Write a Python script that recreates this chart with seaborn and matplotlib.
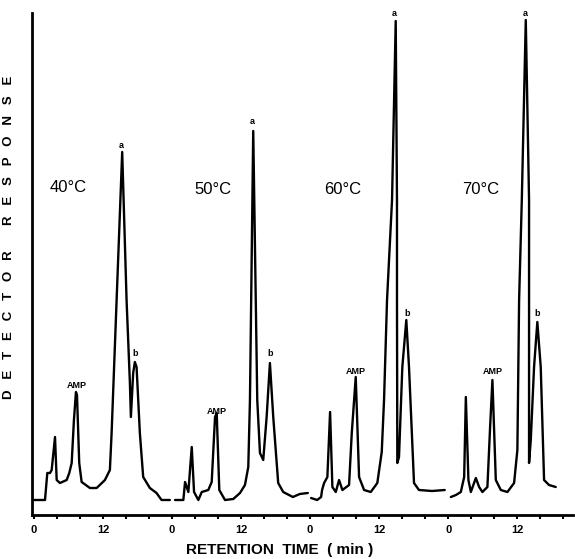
import pandas as pd
import numpy as np
import matplotlib.pyplot as plt
import seaborn as sns

# --- data (local time in min, detector response in arbitrary units) ---
temps = ['40°C', '50°C', '60°C', '70°C']
panel_span = 24  # each run drawn over a 24 min window

t40 = [0.0, 1.91, 2.31, 2.78, 3.07, 3.65, 3.94, 4.51, 5.68, 6.13, 6.55, 6.94, 7.29, 7.47, 7.86,
       8.28, 9.72, 10.89, 12.33, 13.19, 13.49, 14.36, 15.33, 16.09, 16.67, 16.84, 17.24, 17.53,
       17.83, 18.40, 18.98, 20.14, 21.30, 22.17, 23.61]
r40 = [15, 15, 42, 42, 45, 78, 35, 32, 35, 42, 52, 95, 123, 120, 52,
       33, 27, 27, 35, 45, 82, 215, 363, 215, 132, 98, 142, 153,
       148, 82, 38, 27, 22, 15, 15]

t50 = [0.52, 1.96, 2.26, 2.83, 3.42, 3.82, 4.57, 5.16, 6.30, 6.89, 7.47, 7.76, 8.21, 9.20,
       10.64, 11.81, 12.67, 13.25, 13.54, 14.11, 14.81, 15.28, 15.85, 16.44, 17.01, 17.59,
       18.45, 19.32, 21.0, 22.2, 23.6]
r50 = [15, 15, 33, 23, 68, 23, 15, 23, 25, 33, 98, 102, 25, 15,
       16, 22, 30, 48, 115, 384, 115, 62, 55, 98, 152, 98,
       32, 23, 18, 21, 22]

t60 = [0.17, 1.22, 1.91, 2.08, 2.43, 3.0, 3.47, 3.87, 4.46, 5.03, 5.61, 6.77, 7.24, 7.93, 8.51,
       9.38, 10.54, 11.68, 12.45, 12.85, 13.37, 14.24, 14.88, 15.1, 15.1, 15.16, 15.45, 16.03,
       16.72, 17.19, 18.06, 18.92, 21.2, 23.4]
r60 = [17, 15, 18, 25, 32, 38, 103, 28, 23, 35, 25, 30, 82, 138, 38,
       25, 23, 32, 63, 115, 215, 315, 494, 315, 215, 52, 58, 148,
       195, 148, 32, 25, 24, 25]

t70 = [0.47, 1.34, 2.2, 2.78, 3.07, 3.52, 3.94, 4.81, 5.38, 5.95, 6.82, 7.29, 7.69, 8.28, 9.15,
       10.3, 11.46, 12.03, 12.33, 12.8, 13.49, 14.06, 14.06, 14.36, 14.93, 15.5, 16.09, 16.67,
       17.53, 18.7]
r70 = [18, 20, 23, 38, 118, 35, 23, 37, 28, 23, 28, 88, 135, 35, 25,
       23, 32, 65, 215, 315, 495, 315, 52, 75, 148, 193, 148, 35,
       30, 28]

# peak annotations: (label, local time, response)
peak_labels = [
    [('a', 15.23, 370), ('b', 17.53, 162), ('AMP', 7.41, 129)],
    [('a', 14.0, 393), ('b', 17.0, 162), ('AMP', 7.76, 104)],
    [('a', 14.7, 501), ('b', 16.9, 202), ('AMP', 7.93, 144)],
    [('a', 13.37, 501), ('b', 15.5, 202), ('AMP', 7.69, 144)],
]
temp_label_pos = [(5.9, 327), (7.1, 325), (5.6, 325), (5.7, 325)]

times = [t40, t50, t60, t70]
resp = [r40, r50, r60, r70]
frames = []
for i, (tt, rr) in enumerate(zip(times, resp)):
    frames.append(pd.DataFrame({'t': np.array(tt) + i * panel_span, 'r': rr, 'panel': temps[i]}))
df = pd.concat(frames, ignore_index=True)

# --- plot ---
sns.set_style('ticks')
plt.rcParams['font.family'] = ['Liberation Sans', 'DejaVu Sans']
plt.rcParams['text.color'] = 'black'
plt.rcParams['axes.labelcolor'] = 'black'

fig = plt.figure(figsize=(5.75, 5.59), dpi=100)
ax = fig.add_axes([32 / 575, 44 / 559, 541 / 575, 502 / 559])
sns.lineplot(data=df, x='t', y='r', units='panel', estimator=None, sort=False,
             color='black', linewidth=1.7, ax=ax, legend=False)

for i, temp in enumerate(temps):
    off = i * panel_span
    tx, ty = temp_label_pos[i]
    ax.text(tx + off, ty, temp, ha='center', va='center', fontsize=12, color='black')
    for lab, lt, lr in peak_labels[i]:
        ax.text(lt + off, lr, lab, ha='center', va='center', fontsize=6.5,
                fontweight='bold', color='black', clip_on=False)

ax.set_xlim(-0.35, 93.7)
ax.set_ylim(0, 502)
ticks = np.arange(0, 93, 4)
ax.set_xticks(ticks)
ax.set_xticklabels(['0' if t % 24 == 0 else ('12' if t % 24 == 12 else '') for t in ticks],
                   fontsize=8, fontweight='bold')
ax.tick_params(axis='x', direction='out', length=3, width=1.5, pad=4, colors='black')
ax.set_yticks([])
for side in ['top', 'right']:
    ax.spines[side].set_visible(False)
for side in ['left', 'bottom']:
    ax.spines[side].set_linewidth(2)
    ax.spines[side].set_color('black')

ax.set_xlabel('RETENTION  TIME  ( min )', fontsize=11, fontweight='bold')
ax.xaxis.set_label_coords(0.457, -0.055)
ax.set_ylabel('D   E   T   E   C   T   O   R       R   E   S   P   O   N   S   E',
              fontsize=9.5, fontweight='bold')
ax.yaxis.set_label_coords(-0.031, 0.553)

plt.savefig('out.png', dpi=100)
